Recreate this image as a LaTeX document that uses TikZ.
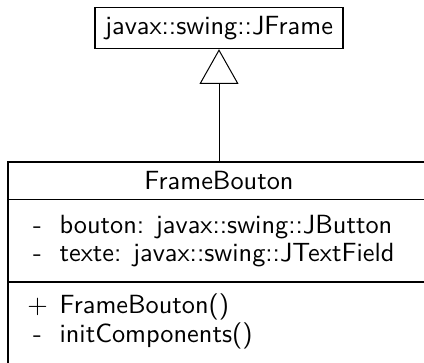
\documentclass[tikz,border=0pt]{standalone}
\usepackage{tikz}
\usetikzlibrary{positioning, calc, arrows.meta}

\begin{document}
\begin{tikzpicture}[
  x=0.38pt, y=-0.38pt, line width=0.45pt, font=\sffamily,
  classbox/.style = {draw, rectangle, outer sep=0pt, minimum width=160.4pt},
  member/.style   = {anchor=base west, inner sep=0pt},
  vis/.style      = {anchor=base, inner sep=0pt},
]
  \useasboundingbox (0,0) rectangle (424,362);

  \node[draw, rectangle, minimum width=94.2pt, minimum height=15.2pt] (jframe) at (219,28) {javax::swing::JFrame};

  \node[classbox, minimum height=14.25pt] (cname) at (219,180.75) {FrameBouton};
  \node[classbox, minimum height=31.35pt, below=0pt of cname] (attrs) {};
  \node[classbox, minimum height=31.5pt,  below=0pt of attrs] (ops)   {};

  % attributes
  \node[vis]    (a1v) at (37.5,233) {-};
  \node[member] (a1)  at (59,233)   {bouton: javax::swing::JButton};
  \node[vis]    (a2v) at (37.5,261) {-};
  \node[member] (a2)  at (59,261)   {texte: javax::swing::JTextField};

  % operations
  \node[vis]    (m1v) at (37.5,313) {$+$};
  \node[member] (m1)  at (59,313)   {FrameBouton()};
  \node[vis]    (m2v) at (37.5,342) {-};
  \node[member] (m2)  at (59,342)   {initComponents()};

  \draw[line width=0.38pt, -{Triangle[open, length=13.2pt, width=14.8pt]}] (cname.north) -- (jframe.south);
\end{tikzpicture}
\end{document}
